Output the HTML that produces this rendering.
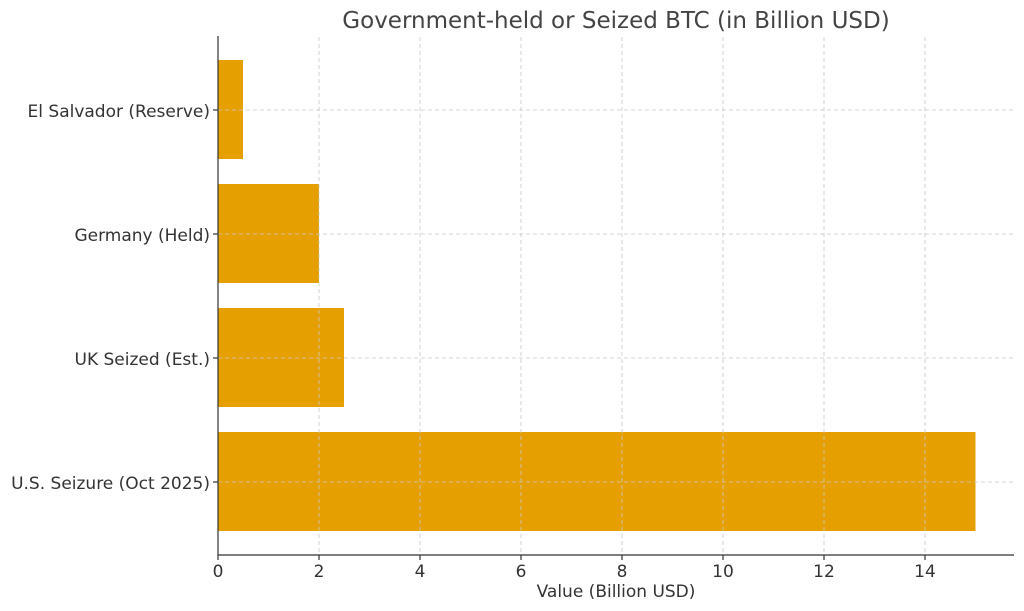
<!DOCTYPE html>
<html><head><style>body{margin:0;background:#fff}svg{display:block}</style></head><body>
<svg width="1024" height="611" xmlns="http://www.w3.org/2000/svg" font-family="DejaVu Sans, Liberation Sans, sans-serif" fill="#333">
<text x="616" y="28" font-size="23" text-anchor="middle" fill="#444">Government-held or Seized BTC (in Billion USD)</text>
<g fill="#e5a000">
<rect x="218" y="60" width="25" height="99"/>
<rect x="218" y="184" width="101" height="99"/>
<rect x="218" y="308" width="126" height="99"/>
<rect x="218" y="432" width="757.5" height="99"/>
</g>
<g stroke="#c8c8c8" stroke-width="0.8" stroke-dasharray="4,3">
<line x1="319" y1="37" x2="319" y2="555"/><line x1="420" y1="37" x2="420" y2="555"/>
<line x1="521" y1="37" x2="521" y2="555"/><line x1="622" y1="37" x2="622" y2="555"/>
<line x1="723" y1="37" x2="723" y2="555"/><line x1="824" y1="37" x2="824" y2="555"/>
<line x1="925" y1="37" x2="925" y2="555"/>
<line x1="218" y1="110" x2="1014" y2="110"/><line x1="218" y1="234" x2="1014" y2="234"/>
<line x1="218" y1="358" x2="1014" y2="358"/><line x1="218" y1="482" x2="1014" y2="482"/>
</g>
<g stroke="#333" stroke-width="1.2">
<line x1="218" y1="36" x2="218" y2="555.5"/><line x1="217.5" y1="555" x2="1014" y2="555"/>
<line x1="213" y1="110" x2="218" y2="110"/><line x1="213" y1="234" x2="218" y2="234"/>
<line x1="213" y1="358" x2="218" y2="358"/><line x1="213" y1="482" x2="218" y2="482"/>
<line x1="218" y1="555" x2="218" y2="560"/><line x1="319" y1="555" x2="319" y2="560"/>
<line x1="420" y1="555" x2="420" y2="560"/><line x1="521" y1="555" x2="521" y2="560"/>
<line x1="622" y1="555" x2="622" y2="560"/><line x1="723" y1="555" x2="723" y2="560"/>
<line x1="824" y1="555" x2="824" y2="560"/><line x1="925" y1="555" x2="925" y2="560"/>
</g>
<g font-size="17" text-anchor="end">
<text x="210" y="117">El Salvador (Reserve)</text>
<text x="210" y="241">Germany (Held)</text>
<text x="210" y="365">UK Seized (Est.)</text>
<text x="210" y="489">U.S. Seizure (Oct 2025)</text>
</g>
<g font-size="17" text-anchor="middle">
<text x="218" y="577">0</text><text x="319" y="577">2</text><text x="420" y="577">4</text>
<text x="521" y="577">6</text><text x="622" y="577">8</text><text x="723" y="577">10</text>
<text x="824" y="577">12</text><text x="925" y="577">14</text>
<text x="616" y="597">Value (Billion USD)</text>
</g>
</svg>
</body></html>
